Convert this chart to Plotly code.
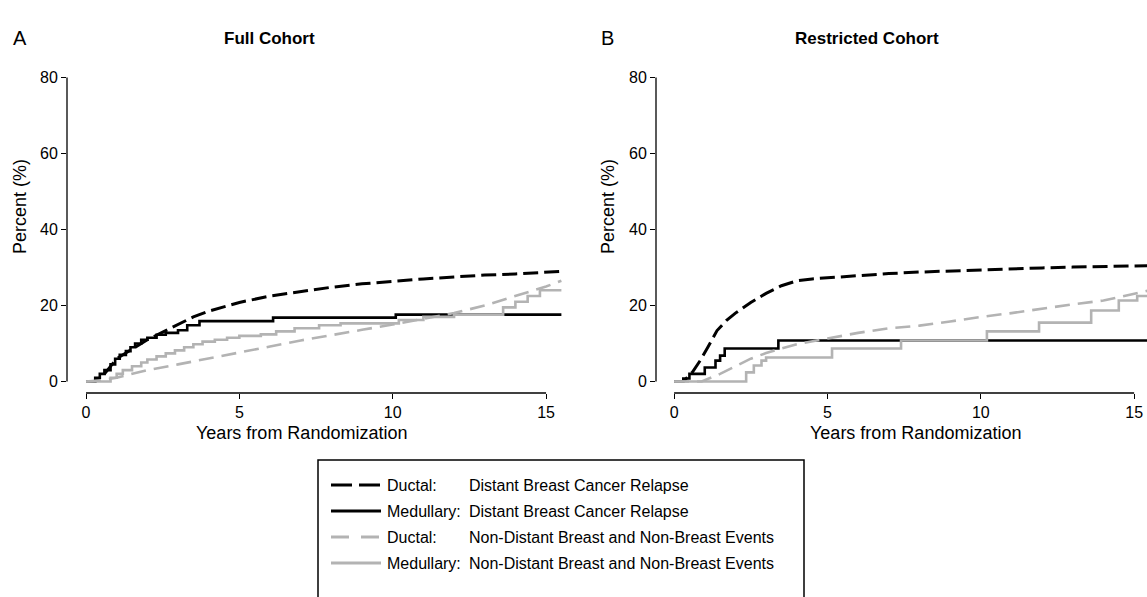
import plotly.graph_objects as go

# ---------------- data ----------------
# Panel A: Full Cohort
a_ductal_dist_x = [0, 0.3, 0.6, 1, 1.5, 2, 2.5, 3, 3.5, 4, 5, 6, 7, 8, 9, 10, 11, 12, 13, 14, 15, 15.5]
a_ductal_dist_y = [0, 0, 2, 6, 8.5, 11, 13, 15, 17, 18.5, 20.8, 22.5, 23.7, 24.8, 25.7, 26.4, 27, 27.5, 28, 28.3, 28.7, 29]

a_med_dist_x = [0, 0.3, 0.45, 0.6, 0.8, 0.95, 1.1, 1.3, 1.45, 1.6, 1.8, 2.0, 2.3, 2.6, 3.0, 3.3, 3.7, 6.1, 10.1, 15.5]
a_med_dist_y = [0, 1, 2, 3, 4.5, 6, 7, 8, 9, 10, 11, 11.5, 12.3, 12.8, 13.5, 14.8, 15.9, 16.8, 17.6, 17.6]

a_ductal_nd_x = [0, 0.5, 1, 2, 3, 4, 5, 6, 7, 8, 9, 10, 11, 12, 13, 14, 15, 15.5]
a_ductal_nd_y = [0, 0.3, 1, 3, 4.5, 6, 7.6, 9.2, 10.8, 12.3, 13.6, 15, 16.5, 18, 20, 22.5, 25, 26.5]

a_med_nd_x = [0, 0.8, 1.0, 1.2, 1.5, 1.8, 2.0, 2.3, 2.6, 2.9, 3.2, 3.5, 3.8, 4.2, 4.6, 5.0, 5.7, 6.2, 6.8,
              7.6, 8.3, 10.2, 11.0, 12.0, 13.6, 14.0, 14.4, 14.8, 15.5]
a_med_nd_y = [0, 1, 2, 3, 4, 5, 5.8, 6.6, 7.4, 8.2, 9, 9.8, 10.5, 11, 11.5, 12, 12.4, 13.2, 14,
              14.8, 15.3, 16.2, 17, 17.6, 19.5, 21, 22.5, 24, 24]

# Panel B: Restricted Cohort
b_ductal_dist_x = [0, 0.3, 0.6, 0.85, 1.1, 1.4, 1.7, 2.0, 2.5, 3.0, 3.5, 4.0, 4.5, 5, 6, 7, 8, 9, 10, 11, 12, 13, 14, 15, 15.5]
b_ductal_dist_y = [0, 0, 2.5, 5.5, 9, 13.4, 16, 18, 20.8, 23.2, 25.2, 26.5, 27, 27.3, 27.9, 28.4, 28.8, 29.1, 29.4, 29.7, 29.9, 30.1, 30.3, 30.5, 30.5]

b_med_dist_x = [0, 0.3, 0.5, 1.0, 1.35, 1.5, 1.65, 3.4, 15.5]
b_med_dist_y = [0, 0.8, 2, 3.7, 5.5, 6.8, 8.7, 10.8, 10.8]

b_ductal_nd_x = [0, 0.9, 1.5, 2, 2.5, 3, 4, 5, 6, 7, 8, 9, 10, 11, 12, 13, 14, 15, 15.5]
b_ductal_nd_y = [0, 0, 2, 4, 6, 7.5, 9.8, 11.3, 12.8, 14, 14.7, 15.8, 17, 18, 19.2, 20.3, 21.3, 23, 24]

b_med_nd_x = [0, 2.35, 2.6, 2.85, 3.0, 5.15, 7.4, 10.2, 11.9, 13.6, 14.5, 15.1, 15.5]
b_med_nd_y = [0, 2.4, 4.2, 5.5, 6.3, 8.7, 10.8, 13.2, 15.5, 18.7, 21.3, 22.5, 22.5]

x_ticks = [0, 5, 10, 15]
y_ticks = [0, 20, 40, 60, 80]

panel_letters = ["A", "B"]
panel_titles = ["Full Cohort", "Restricted Cohort"]
x_title = "Years from Randomization"
y_title = "Percent (%)"

legend_groups = ["Ductal:", "Medullary:", "Ductal:", "Medullary:"]
legend_events = ["Distant Breast Cancer Relapse", "Distant Breast Cancer Relapse",
                 "Non-Distant Breast and Non-Breast Events", "Non-Distant Breast and Non-Breast Events"]

# ---------------- styles ----------------
W, H = 1147, 597
FONT = "Liberation Sans, Arial, sans-serif"
GRAY = "#b3b3b3"
styles = [
    dict(color="black", width=3, dash="15px,6px", shape="linear"),
    dict(color="black", width=2.6, dash="solid", shape="hv"),
    dict(color=GRAY, width=2.6, dash="15px,8px", shape="linear"),
    dict(color=GRAY, width=2.6, dash="solid", shape="hv"),
]


def px(x):
    return x / W


def py(y):
    return 1 - y / H


fig = go.Figure()

panels = [
    dict(series=[(a_ductal_dist_x, a_ductal_dist_y), (a_med_dist_x, a_med_dist_y),
                 (a_ductal_nd_x, a_ductal_nd_y), (a_med_nd_x, a_med_nd_y)],
         xa="x", ya="y", x_range=(-0.62, 15.585)),
    dict(series=[(b_ductal_dist_x, b_ductal_dist_y), (b_med_dist_x, b_med_dist_y),
                 (b_ductal_nd_x, b_ductal_nd_y), (b_med_nd_x, b_med_nd_y)],
         xa="x2", ya="y2", x_range=(-0.59, 15.42)),
]

y_px0, y_pxscale = 381.5, 3.8  # pixel of 0% and px per %
y_bottom_px, y_top_px = 393, 70
y_range = ((y_px0 - y_bottom_px) / y_pxscale, (y_px0 - y_top_px) / y_pxscale)

for p in panels:
    for (xs, ys), st in zip(p["series"], styles):
        fig.add_trace(go.Scatter(
            x=xs, y=ys, mode="lines", xaxis=p["xa"], yaxis=p["ya"], showlegend=False,
            line=dict(color=st["color"], width=st["width"], dash=st["dash"], shape=st["shape"]),
            hoverinfo="skip"))

axis_common = dict(showgrid=False, zeroline=False, showline=False, ticks="outside", ticklen=5,
                   tickwidth=1.2, tickcolor="black",
                   tickfont=dict(family=FONT, size=16, color="black"))

fig.update_layout(
    width=W, height=H, margin=dict(l=0, r=0, t=0, b=0),
    plot_bgcolor="white", paper_bgcolor="white", showlegend=False,
    xaxis=dict(domain=[px(67), px(564)], range=list(panels[0]["x_range"]), anchor="y",
               tickvals=x_ticks, **axis_common),
    yaxis=dict(domain=[py(y_bottom_px), py(y_top_px)], range=list(y_range), anchor="x",
               tickvals=y_ticks, **axis_common),
    xaxis2=dict(domain=[px(656), 1.0], range=list(panels[1]["x_range"]), anchor="y2",
                tickvals=x_ticks, **axis_common),
    yaxis2=dict(domain=[py(y_bottom_px), py(y_top_px)], range=list(y_range), anchor="x2",
                tickvals=y_ticks, **axis_common),
)

shapes = []
annotations = []
letter_x = [20, 607]
title_x = [269, 867]
xtitle_x = [301, 915]
ytitle_x = [20, 608]
for i, p in enumerate(panels):
    xs_ref = p["xa"]
    ys_ref = p["ya"]
    # R-style axis lines spanning first to last tick
    shapes.append(dict(type="line", xref=xs_ref, yref=ys_ref + " domain",
                       x0=x_ticks[0], x1=x_ticks[-1], y0=0, y1=0,
                       line=dict(color="black", width=1.3)))
    shapes.append(dict(type="line", xref=xs_ref + " domain", yref=ys_ref,
                       x0=0, x1=0, y0=y_ticks[0], y1=y_ticks[-1],
                       line=dict(color="black", width=1.3)))
    annotations.append(dict(text=panel_letters[i], x=px(letter_x[i]), y=py(38), xref="paper", yref="paper",
                            showarrow=False, font=dict(family=FONT, size=20, color="black"),
                            xanchor="center", yanchor="middle"))
    annotations.append(dict(text="<b>" + panel_titles[i] + "</b>", x=px(title_x[i]), y=py(38),
                            xref="paper", yref="paper", showarrow=False,
                            font=dict(family=FONT, size=17, color="black"),
                            xanchor="center", yanchor="middle"))
    annotations.append(dict(text=x_title, x=px(xtitle_x[i]), y=py(433), xref="paper", yref="paper",
                            showarrow=False, font=dict(family=FONT, size=18, color="black"),
                            xanchor="center", yanchor="middle"))
    annotations.append(dict(text=y_title, x=px(ytitle_x[i]), y=py(207), xref="paper", yref="paper",
                            showarrow=False, textangle=-90, font=dict(family=FONT, size=18, color="black"),
                            xanchor="center", yanchor="middle"))

# legend box
shapes.append(dict(type="rect", xref="paper", yref="paper", x0=px(318), x1=px(804), y0=py(603), y1=py(460),
                   line=dict(color="black", width=1.5), fillcolor="rgba(0,0,0,0)"))
row_y = [485, 511, 537, 563]
legend_dash = ["21px,7px", "solid", "18px,12px", "solid"]
for i in range(4):
    st = styles[i]
    shapes.append(dict(type="line", xref="paper", yref="paper", x0=px(331), x1=px(381),
                       y0=py(row_y[i]), y1=py(row_y[i]),
                       line=dict(color=st["color"], width=3, dash=legend_dash[i])))
    annotations.append(dict(text=legend_groups[i], x=px(385), y=py(row_y[i]), xref="paper", yref="paper",
                            showarrow=False, font=dict(family=FONT, size=16, color="black"),
                            xanchor="left", yanchor="middle"))
    annotations.append(dict(text=legend_events[i], x=px(467), y=py(row_y[i]), xref="paper", yref="paper",
                            showarrow=False, font=dict(family=FONT, size=16, color="black"),
                            xanchor="left", yanchor="middle"))

fig.update_layout(shapes=shapes, annotations=annotations)
fig.write_html("out.html", config={"displayModeBar": False},
               post_script="document.body.style.margin='0';document.body.style.overflow='hidden';")
